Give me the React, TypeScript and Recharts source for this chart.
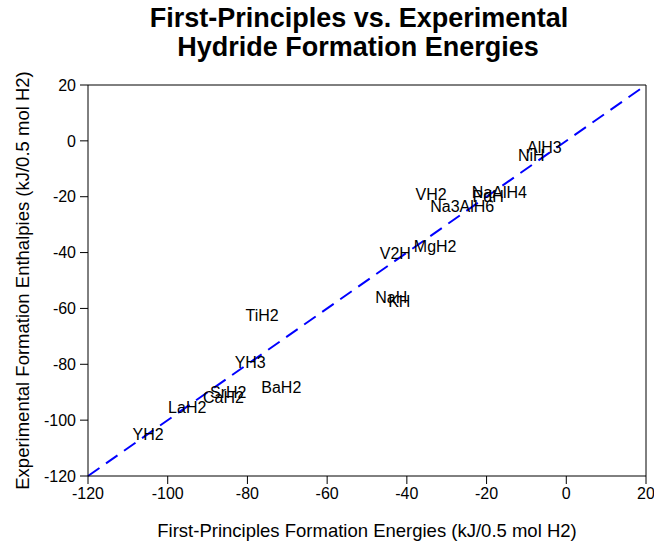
import React from "react";
import { ScatterChart, Scatter, XAxis, YAxis, ReferenceLine, Label } from "recharts";

const names = ["AlH3", "NiH", "VH2", "NaAlH4", "PdH", "Na3AlH6", "MgH2", "V2H", "NaH", "KH", "TiH2", "YH3", "BaH2", "SrH2", "CaH2", "LaH2", "YH2"];
const firstPrinciples = [-5.5, -8.8, -33.9, -16.8, -19.6, -26.1, -32.9, -42.9, -43.9, -41.9, -76.3, -79.3, -71.5, -84.8, -86.0, -95.1, -104.9];
const experimental = [-2.5, -5.4, -19.3, -18.6, -20.0, -23.6, -37.9, -40.5, -56.2, -57.6, -62.7, -79.5, -88.4, -90.2, -92.0, -95.6, -105.3];
const ticks = [-120, -100, -80, -60, -40, -20, 0, 20];

const data = names.map((n, i) => ({ name: n, x: firstPrinciples[i], y: experimental[i] }));

const FONT = "'Liberation Sans', Arial, sans-serif";

const LabelShape = (props: any) => {
  const { cx, cy, payload } = props;
  return (
    <text x={cx} y={cy} textAnchor="middle" dominantBaseline="central" fontSize={16} fontFamily={FONT} fill="#000">
      {payload.name}
    </text>
  );
};

export default function App() {
  return (
    <div style={{ position: "absolute", left: 0, top: 0, width: 654, height: 543, background: "#fff" }}>
      <svg width={654} height={80} style={{ position: "absolute", left: 0, top: 0 }}>
        <text x={359} y={27} textAnchor="middle" fontSize={27} fontWeight="bold" fontFamily={FONT} fill="#000">
          First-Principles vs. Experimental
        </text>
        <text x={358} y={56} textAnchor="middle" fontSize={27} fontWeight="bold" fontFamily={FONT} fill="#000">
          Hydride Formation Energies
        </text>
      </svg>
      <div style={{ position: "absolute", left: 0, top: 0 }}>
        <ScatterChart width={654} height={543} margin={{ top: 85, right: 8, bottom: 0, left: 0 }}>
          <XAxis
            type="number"
            dataKey="x"
            domain={[-120, 20]}
            ticks={ticks}
            allowDataOverflow
            height={67}
            stroke="#000"
            tickSize={8}
            tick={{ fill: "#000", fontSize: 16, fontFamily: FONT }}
            tickMargin={4}
          >
            <Label value="First-Principles Formation Energies (kJ/0.5 mol H2)" position="insideBottom" offset={6} style={{ fill: "#000", fontSize: 18.5, fontFamily: FONT }} />
          </XAxis>
          <YAxis
            type="number"
            dataKey="y"
            domain={[-120, 20]}
            ticks={ticks}
            allowDataOverflow
            width={88}
            stroke="#000"
            tickSize={8}
            tick={{ fill: "#000", fontSize: 16, fontFamily: FONT }}
            tickMargin={4}
          >
            <Label value="Experimental Formation Enthalpies (kJ/0.5 mol H2)" angle={-90} position="insideLeft" offset={22} style={{ textAnchor: "middle", fill: "#000", fontSize: 18.5, fontFamily: FONT }} />
          </YAxis>
          <ReferenceLine y={20} stroke="#000" />
          <ReferenceLine x={20} stroke="#000" />
          <ReferenceLine
            segment={[{ x: -120, y: -120 }, { x: 20, y: 20 }]}
            stroke="#0000ff"
            strokeWidth={2}
            strokeDasharray="14 8"
          />
          <Scatter data={data} shape={LabelShape} isAnimationActive={false} />
        </ScatterChart>
      </div>
    </div>
  );
}
